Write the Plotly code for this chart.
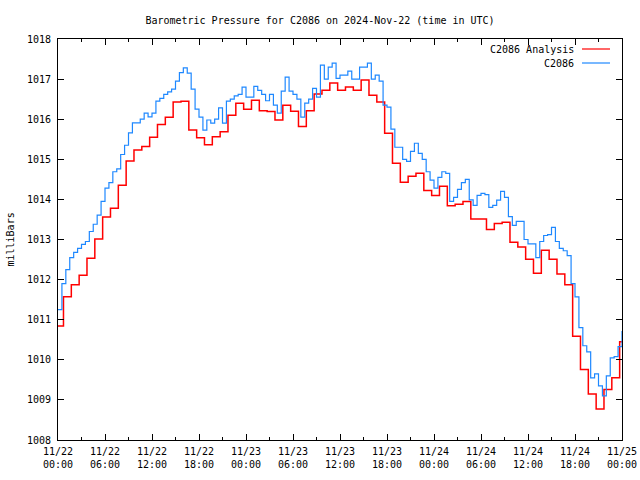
import datetime as dt
import plotly.graph_objects as go

# ---------------- data ----------------
start = dt.datetime(2024, 11, 22, 0, 0)
end = dt.datetime(2024, 11, 25, 0, 0)

# Hourly analysis values (hour 0 .. 72), each valid from 18 min before the hour
analysis_values = [
    1010.84, 1011.57, 1011.87, 1012.11, 1012.53, 1013.01, 1013.56, 1013.78,
    1014.35, 1014.96, 1015.23, 1015.32, 1015.55, 1015.87, 1016.05, 1016.43,
    1016.45, 1015.73, 1015.54, 1015.36, 1015.56, 1015.69, 1016.10, 1016.40,
    1016.25, 1016.47, 1016.21, 1016.19, 1015.98, 1016.35, 1016.20, 1015.82,
    1016.21, 1016.63, 1016.72, 1016.90, 1016.72, 1016.80, 1016.72, 1016.98,
    1016.60, 1016.43, 1015.65, 1014.90, 1014.43, 1014.58, 1014.65, 1014.22,
    1014.10, 1014.33, 1013.84, 1013.88, 1013.95, 1013.51, 1013.51, 1013.25,
    1013.40, 1013.43, 1012.93, 1012.81, 1012.51, 1012.16, 1012.73, 1012.51,
    1012.14, 1011.87, 1010.59, 1009.76, 1009.15, 1008.77, 1009.26, 1009.55,
    1010.45,
]
analysis_lead_minutes = 18

# Station observations every 30 minutes (hour 0.0 .. 72.0)
obs_values = [
    1011.25, 1011.90, 1012.25, 1012.55, 1012.68, 1012.78, 1012.88, 1012.95,
    1013.20, 1013.38, 1013.61, 1013.95, 1014.28, 1014.42, 1014.69, 1014.76,
    1015.12, 1015.35, 1015.66, 1015.91, 1015.91, 1016.00, 1016.15, 1016.06,
    1016.15, 1016.45, 1016.52, 1016.62, 1016.68, 1016.75, 1016.95, 1017.16,
    1017.28, 1017.15, 1016.75, 1016.25, 1016.05, 1015.73, 1015.98, 1015.90,
    1016.00, 1016.28, 1015.90, 1016.45, 1016.50, 1016.58, 1016.62, 1016.80,
    1016.55, 1016.55, 1016.82, 1016.72, 1016.62, 1016.46, 1016.62, 1016.35,
    1016.15, 1016.70, 1017.05, 1016.70, 1016.62, 1016.50, 1016.05, 1016.40,
    1016.50, 1016.77, 1016.55, 1017.35, 1017.00, 1017.30, 1017.40, 1017.02,
    1017.10, 1017.10, 1017.20, 1017.00, 1017.00, 1017.30, 1017.30, 1017.40,
    1017.00, 1017.10, 1016.95, 1016.35, 1016.30, 1015.75, 1015.30, 1015.30,
    1015.00, 1014.95, 1015.20, 1015.40, 1015.15, 1015.00, 1014.69, 1014.48,
    1014.28, 1014.55, 1014.69, 1014.65, 1013.95, 1014.05, 1014.25, 1014.42,
    1014.50, 1013.99, 1013.85, 1014.10, 1014.15, 1014.12, 1013.80, 1013.85,
    1013.98, 1014.20, 1014.05, 1013.57, 1013.35, 1013.45, 1013.45, 1013.00,
    1012.89, 1012.89, 1012.55, 1012.95, 1013.10, 1013.12, 1013.30, 1012.95,
    1012.78, 1012.72, 1012.60, 1011.90, 1011.57, 1010.80, 1010.35, 1010.20,
    1009.55, 1009.65, 1009.35, 1009.10, 1009.60, 1010.05, 1010.08, 1010.33,
    1010.72,
]
obs_step_minutes = 30

y_range = [1008, 1018]
title_text = "Barometric Pressure for C2086 on 2024-Nov-22 (time in UTC)"
y_title = "milliBars"
series_names = ["C2086 Analysis", "C2086"]
colors = ["#ff0000", "#1e88ff"]

# ---------------- build ----------------
an_x = [max(start, start + dt.timedelta(hours=k) - dt.timedelta(minutes=analysis_lead_minutes))
        for k in range(len(analysis_values))]
an_y = list(analysis_values)
an_x.append(end)
an_y.append(analysis_values[-1])

ob_x = [start + dt.timedelta(minutes=obs_step_minutes * i) for i in range(len(obs_values))]

font = "DejaVu Sans Mono, Liberation Mono, monospace"

fig = go.Figure()
fig.add_trace(go.Scatter(x=an_x, y=an_y, mode="lines", line=dict(color=colors[0], width=1.5, shape="hv"),
                         name=series_names[0], showlegend=False))
fig.add_trace(go.Scatter(x=ob_x, y=obs_values, mode="lines", line=dict(color=colors[1], width=1.2, shape="hv"),
                         name=series_names[1], showlegend=False))

fig.update_layout(
    width=640, height=480,
    margin=dict(l=58, r=18, t=39, b=40),
    paper_bgcolor="white", plot_bgcolor="white",
    font=dict(family=font, size=10, color="black"),
    title=dict(text=title_text, x=0.5, xanchor="center", y=1 - 20 / 480, yanchor="middle",
               font=dict(family=font, size=10, color="black")),
)

fig.update_xaxes(
    type="date", range=[start, end], automargin=False,
    showgrid=False, zeroline=False,
    showline=True, linecolor="black", linewidth=1, mirror="ticks",
    ticks="inside", ticklen=6, tickcolor="black", tickwidth=1,
    dtick=6 * 3600 * 1000, tick0=start, tickformat="%m/%d<br>%H:%M",
    minor=dict(ticks="inside", ticklen=3, dtick=3 * 3600 * 1000, tick0=start, tickcolor="black", showgrid=False),
    tickfont=dict(family=font, size=10, color="black"),
    ticklabelstandoff=2,
)

fig.update_yaxes(
    range=y_range, automargin=False,
    showgrid=False, zeroline=False,
    showline=True, linecolor="black", linewidth=1, mirror="ticks",
    ticks="inside", ticklen=6, tickcolor="black", tickwidth=1,
    dtick=1, tickformat="d",
    tickfont=dict(family=font, size=10, color="black"),
    ticklabelstandoff=4,
)

# y-axis title
fig.add_annotation(text=y_title, xref="paper", yref="paper", x=-48 / 564, y=0.5,
                   textangle=-90, showarrow=False, xanchor="center", yanchor="middle",
                   font=dict(family=font, size=10, color="black"))

# legend (text right-aligned, sample line at right)
leg_rows = [49, 63]
for name, col, ypix in zip(series_names, colors, leg_rows):
    yp = 1 - (ypix - 39) / 401
    fig.add_annotation(text=name, xref="paper", yref="paper", x=(576 - 58) / 564, y=yp,
                       showarrow=False, xanchor="right", yanchor="middle",
                       font=dict(family=font, size=10, color="black"))
    fig.add_shape(type="line", xref="paper", yref="paper",
                  x0=(582 - 58) / 564, x1=(610 - 58) / 564, y0=yp, y1=yp,
                  line=dict(color=col, width=1.2))

fig.write_html("out.html", config={"displayModeBar": False},
               post_script="document.body.style.margin='0px';document.body.style.overflow='hidden';")
